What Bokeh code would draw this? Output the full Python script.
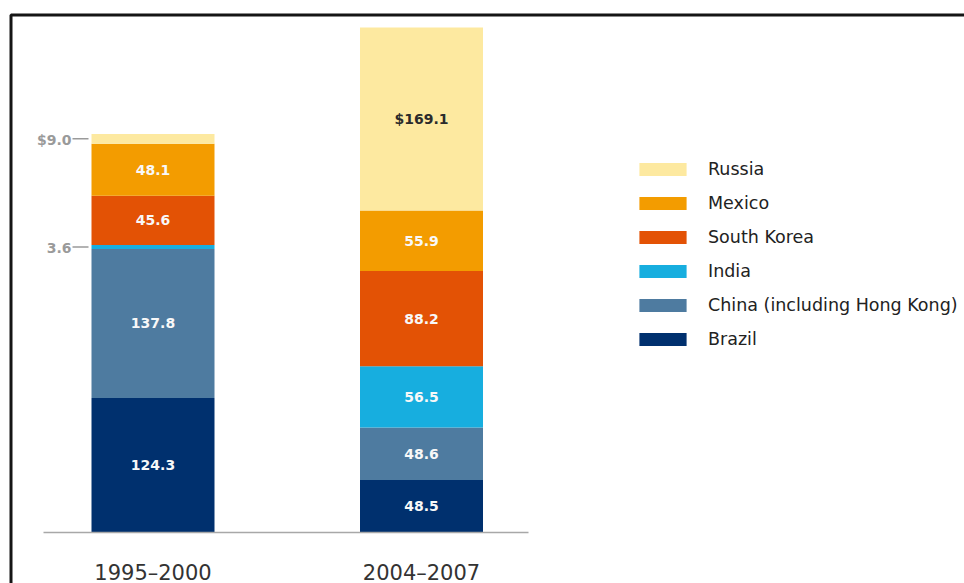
from bokeh.plotting import figure
from bokeh.models import Range1d, ColumnDataSource, Legend, LegendItem, BoxAnnotation
from bokeh.core.properties import value
from bokeh.embed import file_html
from bokeh.resources import INLINE

# ---- data -------------------------------------------------------------
periods = ["1995–2000", "2004–2007"]
countries = ["Brazil", "China (including Hong Kong)", "India", "South Korea", "Mexico", "Russia"]
brazil = [124.3, 48.5]
china = [137.8, 48.6]
india = [3.6, 56.5]
south_korea = [45.6, 88.2]
mexico = [48.1, 55.9]
russia = [9.0, 169.1]
colors = ["#00306E", "#4E7BA0", "#17AEDF", "#E35205", "#F39C00", "#FDE9A0"]

series = [brazil, china, india, south_korea, mexico, russia]
keys = ["brazil", "china", "india", "south_korea", "mexico", "russia"]

# ---- layout constants (pixels) ---------------------------------------
W, H = 964, 583
PX_PER_UNIT = 1.0818      # vertical pixels per $bn
BASE_PX = 532             # baseline pixel row
FIRST_CENTER_PX = 152.5   # first bar centre
STEP_PX = 268.5           # distance between bar centres
BAR_PX = 123

xs = list(range(len(periods)))
bar_w = BAR_PX / STEP_PX

p = figure(width=W, height=H, output_backend="svg", toolbar_location=None,
           x_range=Range1d((0 - FIRST_CENTER_PX) / STEP_PX, (W - FIRST_CENTER_PX) / STEP_PX),
           y_range=Range1d(-(H - BASE_PX) / PX_PER_UNIT, BASE_PX / PX_PER_UNIT),
           min_border=0, min_border_left=0, min_border_right=0,
           min_border_top=0, min_border_bottom=0)
p.axis.visible = False
p.grid.visible = False
p.outline_line_color = None
p.background_fill_color = "white"
p.border_fill_color = "white"

data = dict(x=xs)
for k, s in zip(keys, series):
    data[k] = s
src = ColumnDataSource(data)

renderers = p.vbar_stack(keys, x="x", width=bar_w, color=colors, line_color=None, source=src)

# baseline
p.segment(x0=[(43 - FIRST_CENTER_PX) / STEP_PX], x1=[(528 - FIRST_CENTER_PX) / STEP_PX],
          y0=[0], y1=[0], line_color="#A8A8A8", line_width=1.5)

# value labels
in_x, in_y, in_t, in_c = [], [], [], []
out_x, out_y, out_t = [], [], []
dash_x0, dash_x1, dash_y = [], [], []
for i in xs:
    bottom = 0.0
    for k, name, s in zip(keys, countries, series):
        v = s[i]
        mid = bottom + v / 2
        txt = ("$" if name == "Russia" else "") + f"{v:.1f}"
        if v >= 10:
            in_x.append(i)
            in_y.append(mid)
            in_t.append(txt)
            in_c.append("#2B2B2B" if name == "Russia" else "#F8F8F8")
        else:
            left = i - bar_w / 2
            out_x.append(left)
            out_y.append(mid)
            out_t.append(txt)
            dash_x0.append(left - 19 / STEP_PX)
            dash_x1.append(left - 3 / STEP_PX)
            dash_y.append(mid)
        bottom += v

p.text(x=in_x, y=in_y, text=in_t, text_color=in_c, text_align="center",
       text_baseline="middle", text_font=value("DejaVu Sans"), text_font_size="14px",
       text_font_style="bold")
p.text(x=out_x, y=out_y, text=out_t, text_color="#9A9A9A", text_align="right",
       text_baseline="middle", x_offset=-20, y_offset=1, text_font=value("DejaVu Sans"),
       text_font_size="14px", text_font_style="bold")
p.segment(x0=dash_x0, x1=dash_x1, y0=dash_y, y1=dash_y, line_color="#9A9A9A", line_width=1.5)

# category labels
p.text(x=xs, y=[0] * len(xs), text=periods, y_offset=40, text_color="#333333",
       text_align="center", text_baseline="middle", text_font=value("DejaVu Sans"),
       text_font_size="21px")

# legend (top entry = top of stack)
items = [LegendItem(label=name, renderers=[r]) for name, r in zip(countries, renderers)]
items = items[::-1]
legend = Legend(items=items, location=(633, 234), orientation="vertical",
                glyph_width=59, glyph_height=16, label_standoff=16, label_height=20,
                spacing=14, padding=0, margin=0, border_line_color=None,
                background_fill_alpha=0, label_text_font="DejaVu Sans",
                label_text_font_size="17.5px", label_text_color="#222222")
p.add_layout(legend, "center")

# frame border (top and left visible; right/bottom run off the picture)
border = BoxAnnotation(left=10.5, top=14.5, right=2000, bottom=2000,
                       left_units="canvas", right_units="canvas",
                       top_units="canvas", bottom_units="canvas",
                       fill_alpha=0, line_color="#151515", line_width=3, line_alpha=1)
p.add_layout(border)

open("out.html", "w").write(file_html(p, INLINE))
